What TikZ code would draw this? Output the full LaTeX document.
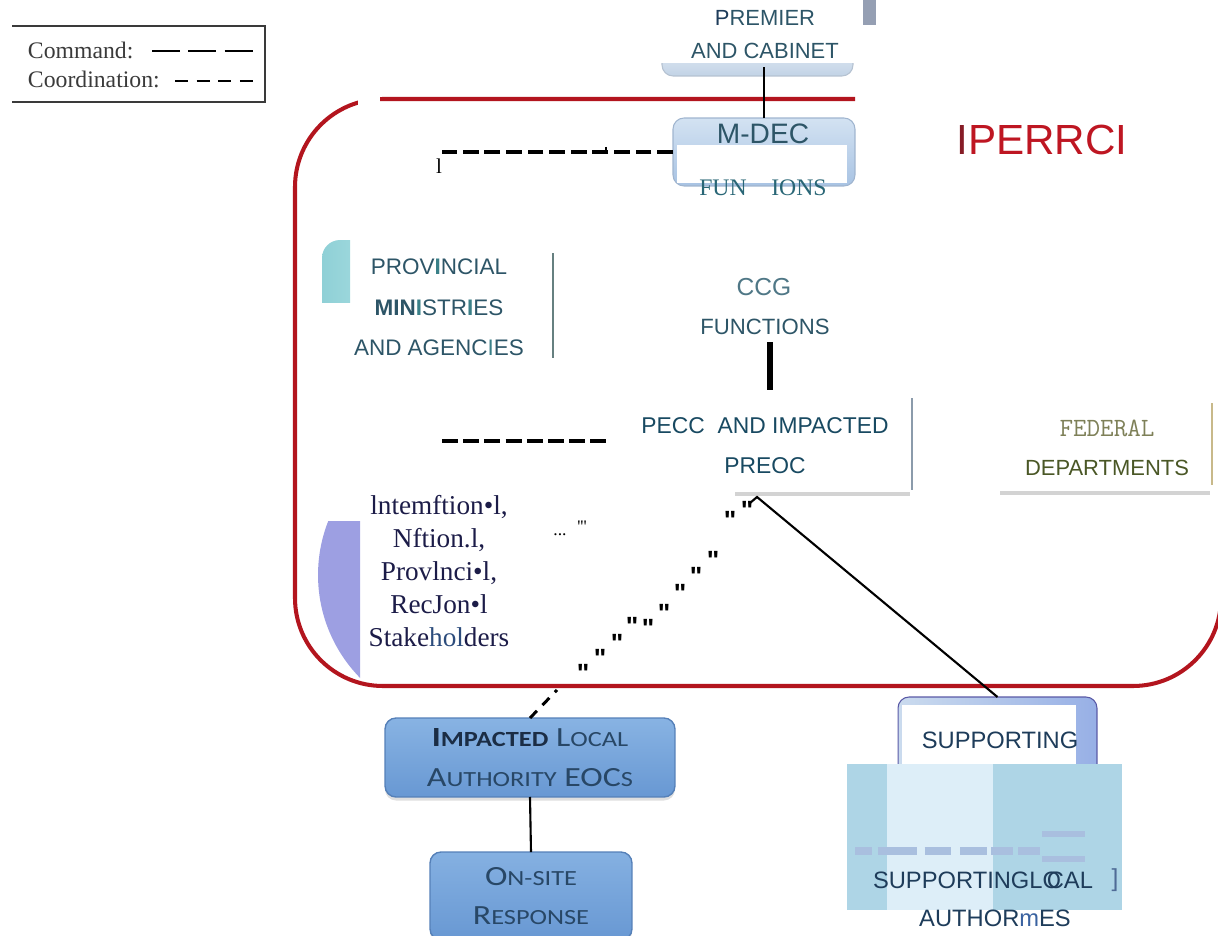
\documentclass[tikz,border=0pt]{standalone}
\usepackage{fontspec}
\setmainfont{Liberation Serif}
\newfontfamily\lsans{Liberation Sans}
\newfontfamily\qsans[Ligatures=TeXOff]{Liberation Sans}
\newfontfamily\qserif[Ligatures=TeXOff]{Liberation Serif}
\newfontfamily\carl{Carlito}
\usetikzlibrary{calc,shadows}
\newcommand\fs[2]{\fontsize{#1}{#2}\selectfont}
\newcommand\bigsm[2]{{\fs{15.8}{20}#1}{\fs{12.3}{20}#2}}
\definecolor{framered}{HTML}{B3151E}
\definecolor{iperred}{HTML}{BE1622}
\definecolor{iperdark}{HTML}{861C26}
\definecolor{tealtext}{HTML}{2D5567}
\definecolor{tealbar}{HTML}{3A8088}
\definecolor{navy}{HTML}{1E3C5A}
\definecolor{ccgcol}{HTML}{4F7786}
\definecolor{fedlight}{HTML}{7E8058}
\definecolor{feddark}{HTML}{4A5726}
\definecolor{fededge}{HTML}{C8B98A}
\definecolor{stakecol}{HTML}{1C1C48}
\definecolor{holcol}{HTML}{2C4C7C}
\definecolor{lavender}{HTML}{9D9FE2}
\definecolor{cyanD}{HTML}{8FD0D6}
\definecolor{cyanL}{HTML}{B8E7E9}
\definecolor{boxtop}{HTML}{88B3E3}
\definecolor{boxbot}{HTML}{6898D3}
\definecolor{boxedge}{HTML}{5580B8}
\definecolor{sctextdark}{HTML}{1B2D45}
\definecolor{sctext}{HTML}{284766}
\definecolor{ovA}{HTML}{AED5E6}
\definecolor{ovB}{HTML}{DDEEF8}
\definecolor{ovdash}{HTML}{A9BFDF}
\definecolor{legcol}{HTML}{3A3A3A}
\definecolor{grayrect}{HTML}{959FB3}
\definecolor{peccedge}{HTML}{8B9BAB}
\definecolor{lightbox}{HTML}{D3E2F2}
\definecolor{midbox}{HTML}{A8C3E3}
\definecolor{paleband}{HTML}{C2D3E6}
\definecolor{mblue}{HTML}{3A62A0}
\tikzset{
  lbl/.style={inner sep=0pt, outer sep=0pt, align=center},
  legtext/.style={lbl, font=\fs{13.5}{16}, text=legcol},
  sanslbl/.style={lbl, font=\lsans\fs{12.5}{18.7}, text=tealtext},
  stake/.style={lbl, font=\fs{15.5}{18.7}, text=stakecol},
  qmark/.style={lbl, font=\qsans\bfseries\fs{15}{15}, text=black, yshift=-3pt},
  coordline/.style={draw=black, line width=2.2pt, dash pattern=on 9pt off 3.3pt},
  impbox/.style={lbl, font=\carl\fs{15.8}{22.3}, text=sctext, shade, top color=boxtop, bottom color=boxbot, draw=boxedge, line width=0.8pt, rounded corners=0.22cm, drop shadow={opacity=0.25, shadow xshift=0pt, shadow yshift=-2pt}},
  palebox/.style={lbl, shade, top color=lightbox, bottom color=midbox, draw=midbox!80!gray, line width=0.6pt, rounded corners=0.22cm},
}
\begin{document}
\begin{tikzpicture}[x=0.02cm, y=-0.02cm]
\useasboundingbox (0,0) rectangle (1218,936);

% ---------------- legend
\draw[legcol, line width=0.9pt] (12,26) -- (265,26) -- (265,102) -- (12,102);
\node[legtext, anchor=west] (cmd) at (28,50) {Command:};
\node[legtext, anchor=west] (coord) at (28,79) {Coordination:};
\coordinate (cmdA) at (152,51);
\coordinate (cmdB) at (253,51);
\coordinate (coA) at (175,81);
\coordinate (coB) at (253,81);
\draw[black, line width=1.2pt, dash pattern=on 15.9pt off 4.8pt] (cmdA) -- (cmdB);
\draw[black, line width=1.2pt, dash pattern=on 7.4pt off 4.9pt] (coA) -- (coB);

% ---------------- premier
\begin{scope}
  \clip (650,64) rectangle (860,82);
  \node[lbl, shade, top color=white, bottom color=paleband, draw=paleband!80!gray, line width=0.6pt, rounded corners=0.22cm, minimum width=3.82cm, minimum height=1.12cm] (premier) at (757.5,48) {};
\end{scope}
\node[sanslbl] (premiert) at (765,34.5) {{\color{navy}P}REMIER\\AND CABINET};
\fill[grayrect] (863,0) rectangle (876,25);

% ---------------- background patches
\begin{scope}
  \clip (296,521) rectangle (360,700);
  \fill[lavender] (465,575) circle[radius=2.94cm];
\end{scope}
\begin{scope}
  \clip (300,235) rectangle (350,302);
  \shade[left color=cyanD, right color=cyanL, rounded corners=0.36cm] (322,240) rectangle (420,360);
\end{scope}

% ---------------- red frame
\draw[framered, line width=2.3pt, rounded corners=1.76cm] (855,99) -- (295,99) -- (295,686) -- (1221,686) -- (1221,380);
\fill[white] (358,90) rectangle (380,110);
\node[lbl, font=\lsans\fs{24}{28}, text=iperred] (iperrci) at (1042,140) {{\color{iperdark}I}PERRCI};

% ---------------- M-DEC
\node[palebox, minimum width=3.64cm, minimum height=1.36cm] (mdec) at (764,152) {};
\fill[white] (677,145) rectangle (847,183);
\node[lbl, font=\lsans\fs{16}{18}, text=tealtext] (mdect) at (763,134) {M-DEC};
\node[lbl, font=\fs{13.5}{16}, text=tealtext!90!cyan] (funions) at (763,188) {FUN\hspace{14pt}IONS};
\draw[black, line width=1.4pt] (mdec.north) -- ($(mdec.north |- premier.south)+(0,-9)$);
\coordinate (dashTL) at (442,152);
\draw[coordline] (mdec.west) -- (dashTL);
\coordinate (tickA) at (606,147);
\coordinate (tickB) at (606,152);
\draw[black, line width=0.8pt] (tickA) -- (tickB);
\node[lbl, font=\fs{12}{14}] (ell) at (439,166) {l};

% ---------------- provincial ministries
\node[sanslbl, font=\lsans\fs{12.8}{23}] (prov) at (439,307.5) {PROV{\color{tealbar}\bfseries I}NCIAL\\{\bfseries MIN}{\color{tealbar}\bfseries I}STR{\color{tealbar}\bfseries I}ES\\AND AGENC{\color{tealbar}I}ES};
\coordinate (provA) at (553,253);
\coordinate (provB) at (553,358);
\draw[gray!80!teal, line width=1.1pt] (provA) -- (provB);

% ---------------- CCG
\node[lbl, font=\lsans\fs{14}{16}, text=ccgcol] (ccg) at (764,287) {CCG};
\node[lbl, font=\lsans\fs{12.6}{16}, text=tealtext] (ccgf) at (765,327) {FUNCTIONS};
\coordinate (ccgA) at (770,342);
\coordinate (ccgB) at (770,390);
\draw[black, line width=3.4pt] (ccgA) -- (ccgB);

% ---------------- dashed middle
\coordinate (dmA) at (442,441);
\coordinate (dmB) at (607,441);
\draw[black, line width=2.2pt, dash pattern=on 9.07pt off 3pt] (dmA) -- (dmB);

% ---------------- PECC
\node[lbl, font=\lsans\fs{13}{22.7}, text=navy!80!teal] (pecc) at (765,446) {PECC\ \ AND IMPACTED\\PREOC};
\coordinate (peA) at (912,398);
\coordinate (peB) at (912,490);
\draw[peccedge, line width=1.6pt] (peA) -- (peB);
\coordinate (psA) at (735,494);
\coordinate (psB) at (910,494);
\draw[gray, opacity=0.35, line width=2.5pt] (psA) -- (psB);

% ---------------- federal
\node[lbl, font=\ttfamily\fs{15}{16}, text=fedlight] (fedt) at (1107,428) {FEDERAL};
\node[lbl, font=\lsans\fs{12.5}{16}, text=feddark] (dept) at (1107,468) {DEPARTMENTS};
\coordinate (feA) at (1212,403);
\coordinate (feB) at (1212,485);
\draw[fededge, line width=1.6pt] (feA) -- (feB);
\coordinate (fsA) at (1000,493);
\coordinate (fsB) at (1210,493);
\draw[gray, opacity=0.35, line width=2.5pt] (fsA) -- (fsB);

% ---------------- stakeholders
\node[stake] (stakeh) at (439,571) {lntemftion•l,\\Nftion.l,\\Provlnci•l,\\RecJon•l\\Stake{\color{holcol}hol}ders};
\node[lbl, font=\qserif\fs{10}{10}] (dots) at (560,535) {...};
\node[lbl, font=\qserif\fs{10}{10}] (ticks) at (582,527) {'''};
\node[qmark] (q1) at (730,515) {"};
\node[qmark] (q2) at (747,505) {"};
\node[qmark] (q3) at (713,555) {"};
\node[qmark] (q4) at (696,571) {"};
\node[qmark] (q5) at (680,588) {"};
\node[qmark] (q6) at (664,608) {"};
\node[qmark] (q7) at (648,623) {"};
\node[qmark] (q8) at (632,621) {"};
\node[qmark] (q9) at (617,638) {"};
\node[qmark] (q10) at (600,653) {"};
\node[qmark] (q11) at (583,668) {"};

% ---------------- impacted local authority
\node[impbox, minimum width=5.8cm, minimum height=1.58cm] (imp) at (530,757.5)
  {\scalebox{1.22}[1]{{\color{sctextdark}\bfseries\bigsm{I}{MPACTED}} \bigsm{L}{OCAL}}\\
   \scalebox{1.22}[1]{\bigsm{A}{UTHORITY} \bigsm{EOC}{S}}};
\node[impbox, minimum width=4.04cm, minimum height=1.76cm, top color=boxtop!90!boxbot] (onsite) at (531,896)
  {\scalebox{1.22}[1]{\bigsm{O}{N-SITE}}\\ \scalebox{1.22}[1]{\bigsm{R}{ESPONSE}}};
\coordinate (impDash) at (557,690);
\draw[black, line width=1.7pt, dash pattern=on 5.7pt off 4.5pt] (imp.north) -- (impDash);
\draw[black, line width=1.2pt] (imp.south) -- (onsite.north);

% ---------------- supporting
\node[palebox, minimum width=3.98cm, minimum height=1.66cm, draw=gray!70!blue, left color=midbox!60!white, right color=midbox!90!blue] (supp) at (997.5,738.5) {};
\fill[white] (902,705) rectangle (1076,770);
\node[lbl, font=\lsans\fs{13.5}{16}, text=navy] (suppt) at (1000,740) {SUPPORTING};
\coordinate (lnA) at (750,503);
\coordinate (lnB) at (757,497);
\draw[black, line width=1.2pt] (lnA) -- (lnB) -- (supp.north);

% overlay
\fill[ovA] (847,764) rectangle (887,910);
\fill[ovB] (887,764) rectangle (993,910);
\fill[ovA] (993,764) rectangle (1122,910);
\coordinate (odA) at (855,851);
\coordinate (odB) at (1041,851);
\draw[ovdash, line width=4pt, dash pattern=on 9.6pt off 3.4pt on 22.1pt off 4.5pt on 15.3pt off 5.1pt on 15.3pt off 2.3pt on 12.5pt off 2.8pt on 12.5pt off 50pt] (odA) -- (odB);
\coordinate (obA) at (1042,834);
\coordinate (obB) at (1085,834);
\coordinate (obC) at (1042,859);
\coordinate (obD) at (1085,859);
\draw[ovdash, line width=3pt] (obA) -- (obB);
\draw[ovdash, line width=3pt] (obC) -- (obD);
\node[lbl, font=\lsans\fs{13.5}{16}, text=navy] (supploc) at (983,880) {SUPPORTINGLO\kern-0.6em CAL};
\node[lbl, font=\lsans\fs{14}{16}, text=mblue!70!gray] (brk) at (1115,880) {]};
\node[lbl, font=\lsans\fs{13.5}{16}, text=navy] (auth) at (995,918) {AUTHOR{\color{mblue}m}ES};
\end{tikzpicture}
\end{document}
